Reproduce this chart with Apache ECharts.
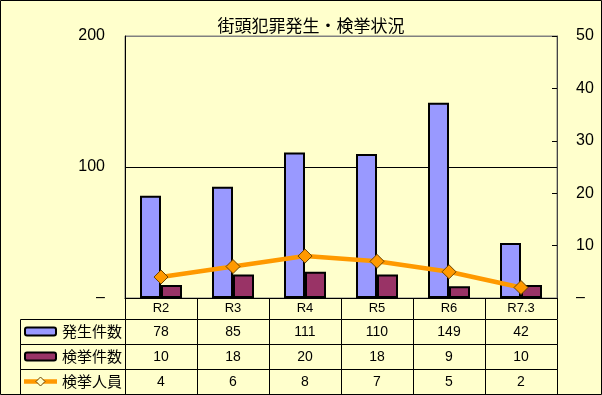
<!DOCTYPE html>
<html>
<head>
<meta charset="utf-8">
<script src="https://cdn.jsdelivr.net/npm/echarts@6/dist/echarts.min.js"></script>
<style>
html,body{margin:0;padding:0;background:#FFFFCC;}
#chart{width:602px;height:395px;}
</style>
</head>
<body>
<div id="chart"></div>
<script>
const titleText = '街頭犯罪発生・検挙状況';
const categories = ['R2', 'R3', 'R4', 'R5', 'R6', 'R7.3'];
const seriesNames = ['発生件数', '検挙件数', '検挙人員'];
const occurrences = [78, 85, 111, 110, 149, 42];
const clearances = [10, 18, 20, 18, 9, 10];
const persons = [4, 6, 8, 7, 5, 2];
const leftAxis = { min: 0, max: 200, interval: 100 };
const rightAxis = { min: 0, max: 50, interval: 10 };

const FONT = "'Liberation Sans', 'Noto Sans CJK JP', sans-serif";
const rows = [occurrences, clearances, persons];
const rowStyles = [
  { type: 'bar', color: '#9999FF' },
  { type: 'bar', color: '#993366' },
  { type: 'line', color: '#FF9900' }
];
const cellData = [];
rows.forEach((vals, r) => vals.forEach((v, c) => cellData.push([c, r, v])));
const legendData = seriesNames.map((n, r) => [0, r]);

const chart = echarts.init(document.getElementById('chart'), null, { renderer: 'canvas' });
const zeroDash = v => (v === 0 ? '–' : String(v));

chart.setOption({
  backgroundColor: '#FFFFCC',
  animation: false,
  textStyle: { fontFamily: FONT, color: '#000' },
  title: {
    text: titleText, left: 306, top: 14, textAlign: 'center',
    textStyle: { fontSize: 17, fontWeight: 'normal', color: '#000', fontFamily: FONT }
  },
  grid: [
    { left: 125, right: 45, top: 36, bottom: 97, show: true, borderColor: '#808080', borderWidth: 1, backgroundColor: 'transparent' },
    { left: 125, right: 45, top: 319, bottom: 1 }
  ],
  xAxis: [
    {
      type: 'category', gridIndex: 0, data: categories,
      axisLine: { show: true, lineStyle: { color: '#000', width: 1 } },
      axisTick: { show: true, length: 21, interval: 0, lineStyle: { color: '#000', width: 1 } },
      axisLabel: { fontSize: 13, color: '#000', margin: 4, fontFamily: FONT },
      splitLine: { show: false }
    },
    {
      type: 'category', gridIndex: 1, data: categories, show: false
    }
  ],
  yAxis: [
    {
      type: 'value', gridIndex: 0, position: 'left',
      min: leftAxis.min, max: leftAxis.max, interval: leftAxis.interval,
      axisLine: { show: true, lineStyle: { color: '#000', width: 1 } },
      axisTick: { show: false },
      axisLabel: { fontSize: 16, color: '#000', margin: 20, formatter: zeroDash, fontFamily: FONT },
      splitLine: { show: true, lineStyle: { color: ['#000', '#000', '#808080'], width: 1 } }
    },
    {
      type: 'value', gridIndex: 0, position: 'right',
      min: rightAxis.min, max: rightAxis.max, interval: rightAxis.interval,
      axisLine: { show: true, lineStyle: { color: '#444', width: 1 } },
      axisTick: { show: true, inside: true, length: 5, lineStyle: { color: '#000' } },
      axisLabel: { fontSize: 16, color: '#000', margin: 19, formatter: zeroDash, fontFamily: FONT },
      splitLine: { show: false }
    },
    {
      type: 'category', gridIndex: 1, data: seriesNames, inverse: true, show: false
    }
  ],
  series: [
    {
      name: seriesNames[0], type: 'bar', xAxisIndex: 0, yAxisIndex: 0,
      data: occurrences, barWidth: 21, barGap: '0%',
      itemStyle: { color: '#9999FF', borderColor: '#000', borderWidth: 2 }
    },
    {
      name: seriesNames[1], type: 'bar', xAxisIndex: 0, yAxisIndex: 0,
      data: clearances, barWidth: 21, barGap: '0%',
      itemStyle: { color: '#993366', borderColor: '#000', borderWidth: 2 }
    },
    {
      name: seriesNames[2], type: 'line', xAxisIndex: 0, yAxisIndex: 1,
      data: persons, symbol: 'diamond', symbolSize: 14, z: 10,
      lineStyle: { color: '#FF9900', width: 4.5 },
      itemStyle: { color: '#FF9900', borderColor: '#6b4200', borderWidth: 1 }
    },
    {
      type: 'custom', xAxisIndex: 1, yAxisIndex: 2, data: cellData, silent: true,
      renderItem: function (params, api) {
        const c = api.coord([api.value(0), api.value(1)]);
        const s = api.size([1, 1]);
        const x = Math.round(c[0] - s[0] / 2) + 0.5;
        const y = Math.round(c[1] - s[1] / 2) + 0.5;
        return {
          type: 'group',
          children: [
            { type: 'rect', shape: { x: x, y: y, width: Math.round(s[0]), height: Math.round(s[1]) },
              style: { fill: 'none', stroke: '#000', lineWidth: 1 } },
            { type: 'text', style: { text: String(api.value(2)), x: c[0], y: c[1] + 1, align: 'center', verticalAlign: 'middle',
              font: '14px ' + FONT, fill: '#000' } }
          ]
        };
      }
    },
    {
      type: 'custom', xAxisIndex: 1, yAxisIndex: 2, data: legendData, silent: true,
      renderItem: function (params, api) {
        const r = api.value(1);
        const c = api.coord([0, r]);
        const s = api.size([1, 1]);
        const x0 = params.coordSys.x - 105;
        const y = Math.round(c[1] - s[1] / 2) + 0.5;
        const cy = c[1];
        const st = rowStyles[r];
        const children = [
          { type: 'rect', shape: { x: Math.round(x0) + 0.5, y: y, width: 105, height: Math.round(s[1]) },
            style: { fill: 'none', stroke: '#000', lineWidth: 1 } }
        ];
        if (st.type === 'bar') {
          children.push({ type: 'rect', shape: { x: x0 + 5, y: cy - 4, width: 31, height: 8, r: 2 },
            style: { fill: st.color, stroke: '#000', lineWidth: 2 } });
        } else {
          children.push({ type: 'line', shape: { x1: x0 + 4, y1: cy, x2: x0 + 37, y2: cy },
            style: { stroke: st.color, lineWidth: 4.5 } });
          children.push({ type: 'polygon', shape: { points: [[x0 + 20.5, cy - 4.5], [x0 + 25, cy], [x0 + 20.5, cy + 4.5], [x0 + 16, cy]] },
            style: { fill: '#FFFFCC', stroke: '#6b4200', lineWidth: 1 } });
        }
        children.push({ type: 'text', style: { text: seriesNames[r], x: x0 + 42, y: cy + 1, align: 'left', verticalAlign: 'middle',
          font: '15px ' + FONT, fill: '#000' } });
        return { type: 'group', children: children };
      }
    }
  ],
  graphic: [
    { type: 'rect', shape: { x: 0.5, y: 0.5, width: 601, height: 394 }, style: { fill: 'none', stroke: '#000', lineWidth: 1 }, z: 100 }
  ]
});
</script>
</body>
</html>
